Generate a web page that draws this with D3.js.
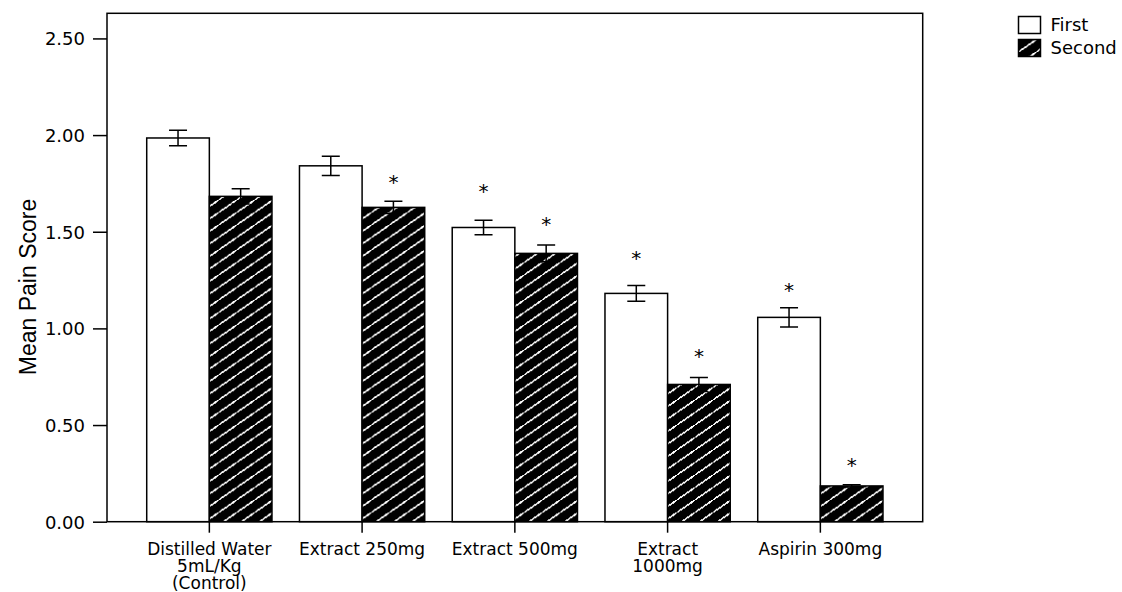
<!DOCTYPE html>
<html>
<head>
<meta charset="utf-8">
<script src="https://cdn.jsdelivr.net/npm/d3@7"></script>
<style>
  body { margin: 0; background: #fff; }
  text { font-family: 'DejaVu Sans', sans-serif; fill: #000; }
</style>
</head>
<body>
<script>

// data
var groups = ['Distilled Water|5mL/Kg|(Control)', 'Extract 250mg', 'Extract 500mg', 'Extract|1000mg', 'Aspirin 300mg'];
var series = ['First', 'Second'];
var firstMean = [1.985, 1.841, 1.522, 1.181, 1.057];
var firstErr = [0.040, 0.050, 0.037, 0.041, 0.050];
var secondMean = [1.683, 1.626, 1.388, 0.710, 0.185];
var secondErr = [0.040, 0.032, 0.043, 0.036, 0.006];
// significance marks, given as the score level they sit at (null = none)
var firstStar = [null, null, 1.732, 1.388, 1.224];
var secondStar = [null, 1.781, 1.565, 0.879, 0.315];
var yTicks = [0, 0.5, 1.0, 1.5, 2.0, 2.5];

var width = 1122,
    height = 592;

var plot = {left: 107, right: 922.7, top: 13.3, bottom: 521.7};

var svg = d3.select('body').append('svg')
    .attr('width', width)
    .attr('height', height);

// hatch pattern for the second series
var defs = svg.append('defs');
var pat = defs.append('pattern')
    .attr('id', 'hatch')
    .attr('patternUnits', 'userSpaceOnUse')
    .attr('width', 18)
    .attr('height', 12.5);
pat.append('rect')
    .attr('width', 18)
    .attr('height', 12.5)
    .attr('fill', '#000');
pat.append('path')
    .attr('d', 'M-2,13.9 L20,-1.4')
    .attr('stroke', '#fff')
    .attr('stroke-width', 1.6)
    .attr('shape-rendering', 'crispEdges');

var data = groups.map(function(g, i) {
    return {
        group: g,
        values: [
            {key: 'First', mean: firstMean[i], err: firstErr[i], star: firstStar[i]},
            {key: 'Second', mean: secondMean[i], err: secondErr[i], star: secondStar[i]}
        ]
    };
});

var x0 = d3.scaleBand()
    .domain(groups)
    .range([plot.left, plot.right])
    .paddingInner(0.18)
    .paddingOuter(0.26);

var x1 = d3.scaleBand()
    .domain(series)
    .range([0, x0.bandwidth()]);

var y = d3.scaleLinear()
    .domain([0, 2.63])
    .range([plot.bottom, plot.top]);

var fill = d3.scaleOrdinal()
    .domain(series)
    .range(['#fff', 'url(#hatch)']);

// bars
var grp = svg.append('g').selectAll('g')
    .data(data)
    .enter().append('g')
    .attr('transform', function(d) { return 'translate(' + x0(d.group) + ',0)'; });

var bar = grp.selectAll('g')
    .data(function(d) { return d.values; })
    .enter().append('g');

bar.append('rect')
    .attr('x', function(d) { return x1(d.key); })
    .attr('width', x1.bandwidth())
    .attr('y', function(d) { return y(d.mean); })
    .attr('height', function(d) { return y(0) - y(d.mean); })
    .attr('fill', function(d) { return fill(d.key); })
    .attr('stroke', '#000')
    .attr('stroke-width', 1.5);

// error bars
var capW = 9;
bar.append('path')
    .attr('d', function(d) {
        var cx = x1(d.key) + x1.bandwidth() / 2,
            t = y(d.mean + d.err),
            b = y(d.mean - d.err);
        return 'M' + cx + ',' + t + 'V' + b +
            'M' + (cx - capW) + ',' + t + 'H' + (cx + capW) +
            'M' + (cx - capW) + ',' + b + 'H' + (cx + capW);
    })
    .attr('fill', 'none')
    .attr('stroke', '#000')
    .attr('stroke-width', 1.5);

// stars
bar.filter(function(d) { return d.star != null; })
    .append('text')
    .attr('x', function(d) { return x1(d.key) + x1.bandwidth() / 2; })
    .attr('y', function(d) { return y(d.star) + 11.5; })
    .attr('text-anchor', 'middle')
    .style('font-size', '20px')
    .text('*');

// frame
svg.append('rect')
    .attr('x', plot.left)
    .attr('y', plot.top)
    .attr('width', plot.right - plot.left)
    .attr('height', plot.bottom - plot.top)
    .attr('fill', 'none')
    .attr('stroke', '#000')
    .attr('stroke-width', 1.5);

// y axis
var yAxis = d3.axisLeft(y)
    .tickValues(yTicks)
    .tickSize(14)
    .tickPadding(8)
    .tickFormat(d3.format('.2f'));

var ya = svg.append('g')
    .attr('transform', 'translate(' + plot.left + ',0)')
    .call(yAxis);
ya.select('.domain').remove();
ya.selectAll('line').attr('stroke', '#000').attr('stroke-width', 1.5);
ya.selectAll('text')
    .style('font-size', '18px')
    .attr('font-family', 'DejaVu Sans')
    .attr('dy', '0.36em');

// x axis (group ticks at the centre of each pair)
var xAxis = d3.axisBottom(x0)
    .tickSize(11)
    .tickFormat('');

var xa = svg.append('g')
    .attr('transform', 'translate(0,' + plot.bottom + ')')
    .call(xAxis);
xa.select('.domain').remove();
xa.selectAll('line').attr('stroke', '#000').attr('stroke-width', 1.5);

xa.selectAll('.tick').append('text')
    .attr('text-anchor', 'middle')
    .attr('fill', '#000')
    .style('font-size', '17px')
    .selectAll('tspan')
    .data(function(d) { return d.split('|'); })
    .enter().append('tspan')
    .attr('x', 0)
    .attr('y', function(d, i) { return 33 + i * 17; })
    .text(function(d) { return d; });

// y title
svg.append('text')
    .attr('text-anchor', 'middle')
    .attr('transform', 'translate(36,287)rotate(-90)')
    .style('font-family', "'Liberation Sans', Arial, sans-serif")
    .style('font-size', '23px')
    .text('Mean Pain Score');

// legend
var legend = svg.append('g').selectAll('g')
    .data(series)
    .enter().append('g')
    .attr('transform', function(d, i) { return 'translate(1018.5,' + (16.5 + i * 23) + ')'; });

legend.append('rect')
    .attr('width', 22)
    .attr('height', 17)
    .attr('fill', function(d) { return fill(d); })
    .attr('stroke', '#000')
    .attr('stroke-width', 1.5);

legend.append('text')
    .attr('x', 32)
    .attr('y', 14.5)
    .style('font-size', '18px')
    .text(function(d) { return d; });

</script>
</body>
</html>
